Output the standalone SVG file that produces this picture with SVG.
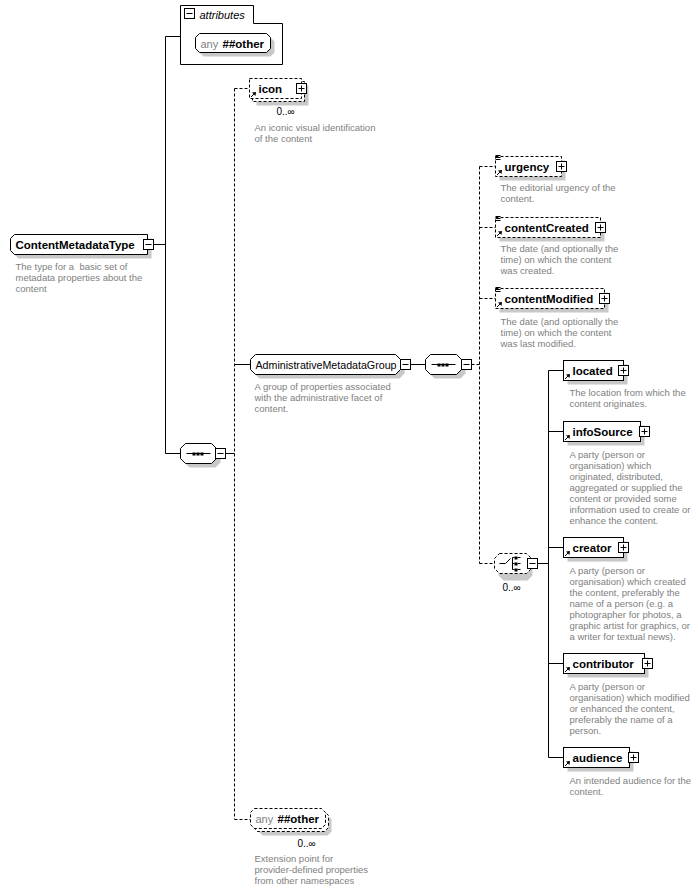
<svg xmlns="http://www.w3.org/2000/svg" width="698" height="890" viewBox="0 0 698 890">
<style>
.bx{fill:#fff;stroke:#000;stroke-width:1}
.op{stroke-dasharray:3,2}
.sh{fill:#c8c8c8;stroke:none}
.ln{fill:none;stroke:#000;stroke-width:1}
.dl{stroke-dasharray:3,2}
.pm{fill:#fff;stroke:#000;stroke-width:1}
.nm{font-family:"Liberation Sans",Arial,sans-serif;font-size:11.5px;font-weight:bold;fill:#000}
.nr{font-family:"Liberation Sans",Arial,sans-serif;font-size:11px;fill:#000}
.ds{font-family:"Liberation Sans",Arial,sans-serif;font-size:9.5px;fill:#808080}
.oc{font-family:"Liberation Sans",Arial,sans-serif;font-size:10px;fill:#000}
.an{font-family:"Liberation Sans",Arial,sans-serif;font-size:11px;fill:#808080}
.it{font-family:"Liberation Sans",Arial,sans-serif;font-size:11px;font-style:italic;fill:#000}
.ic{fill:#000;stroke:none}
</style>
<defs>
<g id="minus"><rect class="pm" x="0" y="0" width="10" height="10"/><path class="ln" d="M2,5H8"/></g>
<g id="plus"><rect class="pm" x="0" y="0" width="10" height="10"/><path class="ln" d="M2,5H8M5,2V8"/></g>
<g id="ref"><path class="ln" d="M1.5,6.5L5,3"/><path class="ic" d="M6.5,1.5L2.5,2L6,5.5Z"/></g>
<g id="lst"><path class="ln" d="M0,0H5M0,2H5M0,4H5"/></g>
<g id="seqdots"><rect class="ic" x="0" y="-1" width="3" height="3"/><rect class="ic" x="4" y="-1" width="3" height="3"/><rect class="ic" x="8" y="-1" width="3" height="3"/></g>
</defs>
<g transform="translate(0.5 0.5)">
<g id="connectors">
<path class="ln" d="M153,244H165M165,36V453M165,36H180M165,453H180M225,453H234"/>
<path class="ln dl" d="M234,88V819M234,88H249M234,819H250"/>
<path class="ln" d="M234,364H250M410,364H425"/>
<path class="ln dl" d="M471,364H479M479,166V563M479,166H495M479,227H495M479,298H495M479,563H494"/>
<path class="ln" d="M537,563H548M548,370V757M548,370H563M548,431H563M548,547H563M548,663H563M548,757H563"/>
</g>

<g id="ContentMetadataType">
<path class="sh" d="M18,238H151V258H18L14,254V242Z"/>
<path class="bx" d="M14,234H147V254H14L10,250V238Z"/>
<text class="nm" x="15" y="248">ContentMetadataType</text>
<use href="#minus" x="143" y="239"/>
<text class="ds" xml:space="preserve"><tspan x="15" y="269">The type for a  basic set of</tspan><tspan x="15" y="280">metadata properties about the</tspan><tspan x="15" y="291">content</tspan></text>
</g>

<g id="attributes">
<path class="bx" d="M180,5H253V23H282V64H180Z"/>
<use href="#minus" x="184" y="8"/>
<text class="it" x="199" y="18">attributes</text>
<path class="sh" d="M203,37H270L274,41V52L270,56H203L199,52V41Z"/>
<path class="bx" d="M199,33H266L270,37V48L266,52H199L195,48V37Z"/>
<text class="an" x="200" y="47">any</text>
<text class="nm" x="222" y="47">##other</text>
</g>

<g id="icon">
<rect class="sh" x="256" y="85" width="52" height="20"/>
<rect class="bx op" x="252" y="81" width="52" height="20"/>
<rect class="bx op" x="249" y="78" width="52" height="20"/>
<text class="nm" x="258" y="92">icon</text>
<use href="#ref" x="249" y="90"/>
<use href="#plus" x="296" y="83"/>
<text class="oc" x="276" y="114">0..∞</text>
<text class="ds"><tspan x="254" y="130">An iconic visual identification</tspan><tspan x="254" y="141">of the content</tspan></text>
</g>

<g id="mainSequence">
<path class="sh" d="M189,447H215L220,452V462L215,467H189L184,462V452Z"/>
<path class="bx" d="M185,443H211L216,448V458L211,463H185L180,458V448Z"/>
<path class="ln" d="M186,453H210"/>
<use href="#seqdots" x="192" y="453"/>
<use href="#minus" x="215" y="448"/>
</g>

<g id="AdministrativeMetadataGroup">
<path class="sh" d="M259,358H399L404,363V373L399,378H259L254,373V363Z"/>
<path class="bx" d="M255,354H395L400,359V369L395,374H255L250,369V359Z"/>
<text class="nr" x="255" y="368" textLength="141" lengthAdjust="spacingAndGlyphs">AdministrativeMetadataGroup</text>
<use href="#minus" x="400" y="359"/>
<text class="ds"><tspan x="254" y="389">A group of properties associated</tspan><tspan x="254" y="400">with the administrative facet of</tspan><tspan x="254" y="411">content.</tspan></text>
</g>

<g id="adminSequence">
<path class="sh" d="M434,358H460L465,363V373L460,378H434L429,373V363Z"/>
<path class="bx" d="M430,354H456L461,359V369L456,374H430L425,369V359Z"/>
<path class="ln" d="M431,364H455"/>
<use href="#seqdots" x="437" y="364"/>
<use href="#minus" x="461" y="359"/>
</g>

<g id="urgency">
<rect class="sh" x="499" y="160" width="66" height="20"/>
<rect class="bx op" x="495" y="156" width="66" height="20"/>
<use href="#lst" x="495" y="155"/>
<text class="nm" x="504" y="170">urgency</text>
<use href="#ref" x="495" y="168"/>
<use href="#plus" x="556" y="161"/>
<text class="ds"><tspan x="500" y="190">The editorial urgency of the</tspan><tspan x="500" y="201">content.</tspan></text>
</g>

<g id="contentCreated">
<rect class="sh" x="499" y="221" width="105" height="20"/>
<rect class="bx op" x="495" y="217" width="105" height="20"/>
<use href="#lst" x="495" y="216"/>
<text class="nm" x="504" y="231">contentCreated</text>
<use href="#ref" x="495" y="229"/>
<use href="#plus" x="595" y="222"/>
<text class="ds"><tspan x="500" y="251">The date (and optionally the</tspan><tspan x="500" y="262">time) on which the content</tspan><tspan x="500" y="273">was created.</tspan></text>
</g>

<g id="contentModified">
<rect class="sh" x="499" y="292" width="109" height="20"/>
<rect class="bx op" x="495" y="288" width="109" height="20"/>
<use href="#lst" x="495" y="287"/>
<text class="nm" x="504" y="302">contentModified</text>
<use href="#ref" x="495" y="300"/>
<use href="#plus" x="599" y="293"/>
<text class="ds"><tspan x="500" y="324">The date (and optionally the</tspan><tspan x="500" y="335">time) on which the content</tspan><tspan x="500" y="346">was last modified.</tspan></text>
</g>

<g id="choice">
<path class="sh" d="M503,560H527L532,565V575L527,580H503L498,575V565Z"/>
<path class="bx op" d="M499,553H526L531,558V568L526,573H499L494,568V558Z"/>
<path class="ln" d="M499,563H505L510,558M512,557V569M512,557H514M512,563H514M512,569H514M517,557H520M517,563H520M517,569H520"/>
<rect class="ic" x="514" y="556" width="3" height="3"/><rect class="ic" x="514" y="562" width="3" height="3"/><rect class="ic" x="514" y="568" width="3" height="3"/>
<use href="#minus" x="527" y="558"/>
<text class="oc" x="502" y="590">0..∞</text>
</g>

<g id="located">
<rect class="sh" x="567" y="364" width="60" height="20"/>
<rect class="bx" x="563" y="360" width="60" height="20"/>
<text class="nm" x="572" y="374">located</text>
<use href="#ref" x="563" y="372"/>
<use href="#plus" x="618" y="365"/>
<text class="ds"><tspan x="569" y="395">The location from which the</tspan><tspan x="569" y="406">content originates.</tspan></text>
</g>

<g id="infoSource">
<rect class="sh" x="567" y="425" width="77" height="20"/>
<rect class="bx" x="563" y="421" width="77" height="20"/>
<text class="nm" x="572" y="435">infoSource</text>
<use href="#ref" x="563" y="433"/>
<use href="#plus" x="639" y="426"/>
<text class="ds"><tspan x="569" y="457">A party (person or</tspan><tspan x="569" y="468">organisation) which</tspan><tspan x="569" y="479">originated, distributed,</tspan><tspan x="569" y="490">aggregated or supplied the</tspan><tspan x="569" y="501">content or provided some</tspan><tspan x="569" y="512">information used to create or</tspan><tspan x="569" y="523">enhance the content.</tspan></text>
</g>

<g id="creator">
<rect class="sh" x="567" y="541" width="60" height="20"/>
<rect class="bx" x="563" y="537" width="60" height="20"/>
<text class="nm" x="572" y="551">creator</text>
<use href="#ref" x="563" y="549"/>
<use href="#plus" x="618" y="542"/>
<text class="ds"><tspan x="569" y="573">A party (person or</tspan><tspan x="569" y="584">organisation) which created</tspan><tspan x="569" y="595">the content, preferably the</tspan><tspan x="569" y="606">name of a person (e.g. a</tspan><tspan x="569" y="617">photographer for photos, a</tspan><tspan x="569" y="628">graphic artist for graphics, or</tspan><tspan x="569" y="639">a writer for textual news).</tspan></text>
</g>

<g id="contributor">
<rect class="sh" x="567" y="657" width="81" height="20"/>
<rect class="bx" x="563" y="653" width="81" height="20"/>
<text class="nm" x="572" y="667">contributor</text>
<use href="#ref" x="563" y="665"/>
<use href="#plus" x="642" y="658"/>
<text class="ds"><tspan x="569" y="689">A party (person or</tspan><tspan x="569" y="700">organisation) which modified</tspan><tspan x="569" y="711">or enhanced the content,</tspan><tspan x="569" y="722">preferably the name of a</tspan><tspan x="569" y="733">person.</tspan></text>
</g>

<g id="audience">
<rect class="sh" x="567" y="751" width="66" height="20"/>
<rect class="bx" x="563" y="747" width="66" height="20"/>
<text class="nm" x="572" y="761">audience</text>
<use href="#ref" x="563" y="759"/>
<use href="#plus" x="628" y="752"/>
<text class="ds"><tspan x="569" y="783">An intended audience for the</tspan><tspan x="569" y="794">content.</tspan></text>
</g>

<g id="anyOther">
<path class="sh" d="M262,815H327L331,819V831L327,835H262L258,831V819Z"/>
<path class="bx op" d="M257,811H324L328,815V827L324,831H257L253,827V815Z"/>
<path class="bx op" d="M254,808H321L325,812V824L321,828H254L250,824V812Z"/>
<text class="an" x="255" y="822">any</text>
<text class="nm" x="277" y="822">##other</text>
<text class="oc" x="297" y="846">0..∞</text>
<text class="ds"><tspan x="254" y="861">Extension point for</tspan><tspan x="254" y="872">provider-defined properties</tspan><tspan x="254" y="883">from other namespaces</tspan></text>
</g>
</g>
</svg>
